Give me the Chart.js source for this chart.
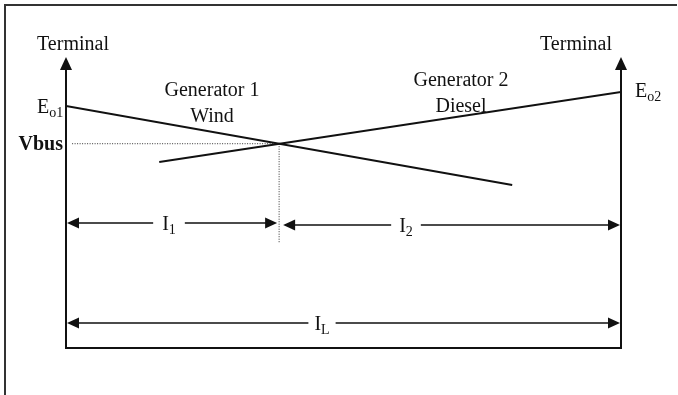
<!DOCTYPE html>
<html>
<head>
<meta charset="utf-8">
<style>
  html, body { margin: 0; padding: 0; background: #fff; }
  canvas { display: block; }
</style>
<script src="https://cdn.jsdelivr.net/npm/chart.js@4.4.1/dist/chart.umd.min.js"></script>
</head>
<body>
<canvas id="c" width="678" height="395"></canvas>
<script>
// ---- Data (current as % of load current IL, voltage in arbitrary units) ----
const gen1Current = [0, 80.4];
const gen1Voltage = [83.2, 56.0];
const gen2Current = [16.8, 100];
const gen2Voltage = [63.9, 88.0];
const busVoltage = 70.2;      // Vbus
const gen1Share = 38.4;       // I1 (operating point)
const loadCurrent = 100;      // IL
const dropLineBottom = 36.1;  // end of vertical dotted line
const vbusLineStart = 1.1;
const branchArrowLevel = 42.6;
const loadArrowLevel = 8.6;

const FONT = '"Liberation Serif", "Times New Roman", serif';
const INK = '#111';

function pts(xs, ys) { return xs.map((x, i) => ({ x: x, y: ys[i] })); }

function arrowHead(ctx, x, y, dir, len, half) {
  ctx.beginPath();
  if (dir === 'r') { ctx.moveTo(x, y); ctx.lineTo(x - len, y - half); ctx.lineTo(x - len, y + half); }
  else if (dir === 'l') { ctx.moveTo(x, y); ctx.lineTo(x + len, y - half); ctx.lineTo(x + len, y + half); }
  else { ctx.moveTo(x, y); ctx.lineTo(x - half, y + len); ctx.lineTo(x + half, y + len); }
  ctx.closePath();
  ctx.fill();
}

function subText(ctx, main, sub, x, y, align, size, subSize, subDrop) {
  ctx.font = size + 'px ' + FONT;
  const wm = ctx.measureText(main).width;
  ctx.font = subSize + 'px ' + FONT;
  const ws = ctx.measureText(sub).width;
  let left = x;
  if (align === 'center') left = x - (wm + ws) / 2;
  else if (align === 'right') left = x - (wm + ws);
  ctx.textAlign = 'left';
  ctx.font = size + 'px ' + FONT;
  ctx.fillText(main, left, y);
  ctx.font = subSize + 'px ' + FONT;
  ctx.fillText(sub, left + wm, y + subDrop);
  return { left: left, right: left + wm + ws };
}

function dimArrow(ctx, x0, x1, y, labelMain, labelSub, labelCx, gapPad) {
  ctx.textBaseline = 'alphabetic';
  const box = subText(ctx, labelMain, labelSub, labelCx, y + 7, 'center', 20, 14, 4);
  ctx.lineWidth = 1.4;
  ctx.beginPath();
  ctx.moveTo(x0 + 2, y); ctx.lineTo(box.left - gapPad, y);
  ctx.moveTo(box.right + gapPad, y); ctx.lineTo(x1 - 2, y);
  ctx.stroke();
  arrowHead(ctx, x0, y, 'l', 12, 5.5);
  arrowHead(ctx, x1, y, 'r', 12, 5.5);
}

const diagramPlugin = {
  id: 'diagram',
  afterDraw(chart) {
    const ctx = chart.ctx;
    const xs = chart.scales.x, ys = chart.scales.y;
    const X = v => xs.getPixelForValue(v);
    const Y = v => ys.getPixelForValue(v);
    const xL = X(0), xR = X(loadCurrent), yB = Y(0), yT = Y(100);
    ctx.save();
    ctx.fillStyle = INK; ctx.strokeStyle = INK;

    // outer frame (top and left edges)
    ctx.strokeStyle = '#333';
    ctx.lineWidth = 2;
    ctx.beginPath();
    ctx.moveTo(5, 396); ctx.lineTo(5, 5); ctx.lineTo(677, 5);
    ctx.stroke();

    // axes
    ctx.strokeStyle = INK;
    ctx.lineWidth = 2;
    ctx.beginPath();
    ctx.moveTo(xL, yT + 10); ctx.lineTo(xL, yB); ctx.lineTo(xR, yB); ctx.lineTo(xR, yT + 10);
    ctx.stroke();
    arrowHead(ctx, xL, yT, 'u', 13, 6);
    arrowHead(ctx, xR, yT, 'u', 13, 6);

    // dimension arrows
    const xI = X(gen1Share);
    const yBr = Y(branchArrowLevel);
    dimArrow(ctx, xL + 1, xI - 2, yBr - 1, 'I', '1', 169, 9);
    dimArrow(ctx, xI + 4, xR - 1, yBr + 1, 'I', '2', 406, 8);
    dimArrow(ctx, xL + 1, xR - 1, Y(loadArrowLevel), 'I', 'L', 322, 6);

    // labels
    ctx.textBaseline = 'alphabetic';
    ctx.font = '20px ' + FONT;
    ctx.textAlign = 'center';
    ctx.fillText('Terminal', xL + 7, 50);
    ctx.fillText('Terminal', xR - 45, 50);
    ctx.fillText('Generator 1', 212, 96);
    ctx.fillText('Wind', 212, 122);
    ctx.fillText('Generator 2', 461, 86);
    ctx.fillText('Diesel', 461, 112);

    subText(ctx, 'E', 'o1', xL - 29, Y(gen1Voltage[0]) + 7, 'left', 20, 14, 4);
    subText(ctx, 'E', 'o2', xR + 14, Y(gen2Voltage[1]) + 5, 'left', 20, 14, 4);

    ctx.font = 'bold 20px ' + FONT;
    ctx.textAlign = 'right';
    ctx.fillText('Vbus', xL - 3, Y(busVoltage) + 6);
    ctx.restore();
  }
};

new Chart(document.getElementById('c'), {
  type: 'scatter',
  data: {
    datasets: [
      { label: 'Generator 1 Wind', data: pts(gen1Current, gen1Voltage), showLine: true,
        borderColor: INK, borderWidth: 2, pointRadius: 0 },
      { label: 'Generator 2 Diesel', data: pts(gen2Current, gen2Voltage), showLine: true,
        borderColor: INK, borderWidth: 2, pointRadius: 0 },
      { label: 'Vbus', data: [{ x: vbusLineStart, y: busVoltage }, { x: gen1Share, y: busVoltage }],
        showLine: true, borderColor: '#333', borderWidth: 1, borderDash: [1, 1.5], pointRadius: 0 },
      { label: 'I1 split', data: [{ x: gen1Share, y: busVoltage }, { x: gen1Share, y: dropLineBottom }],
        showLine: true, borderColor: '#333', borderWidth: 1, borderDash: [1, 1.5], pointRadius: 0 }
    ]
  },
  options: {
    responsive: false,
    animation: false,
    devicePixelRatio: 1,
    layout: { padding: { left: 66, right: 57, top: 57, bottom: 47 } },
    scales: {
      x: { type: 'linear', min: 0, max: 100, display: false },
      y: { type: 'linear', min: 0, max: 100, display: false }
    },
    plugins: { legend: { display: false }, tooltip: { enabled: false } }
  },
  plugins: [diagramPlugin]
});
</script>
</body>
</html>
